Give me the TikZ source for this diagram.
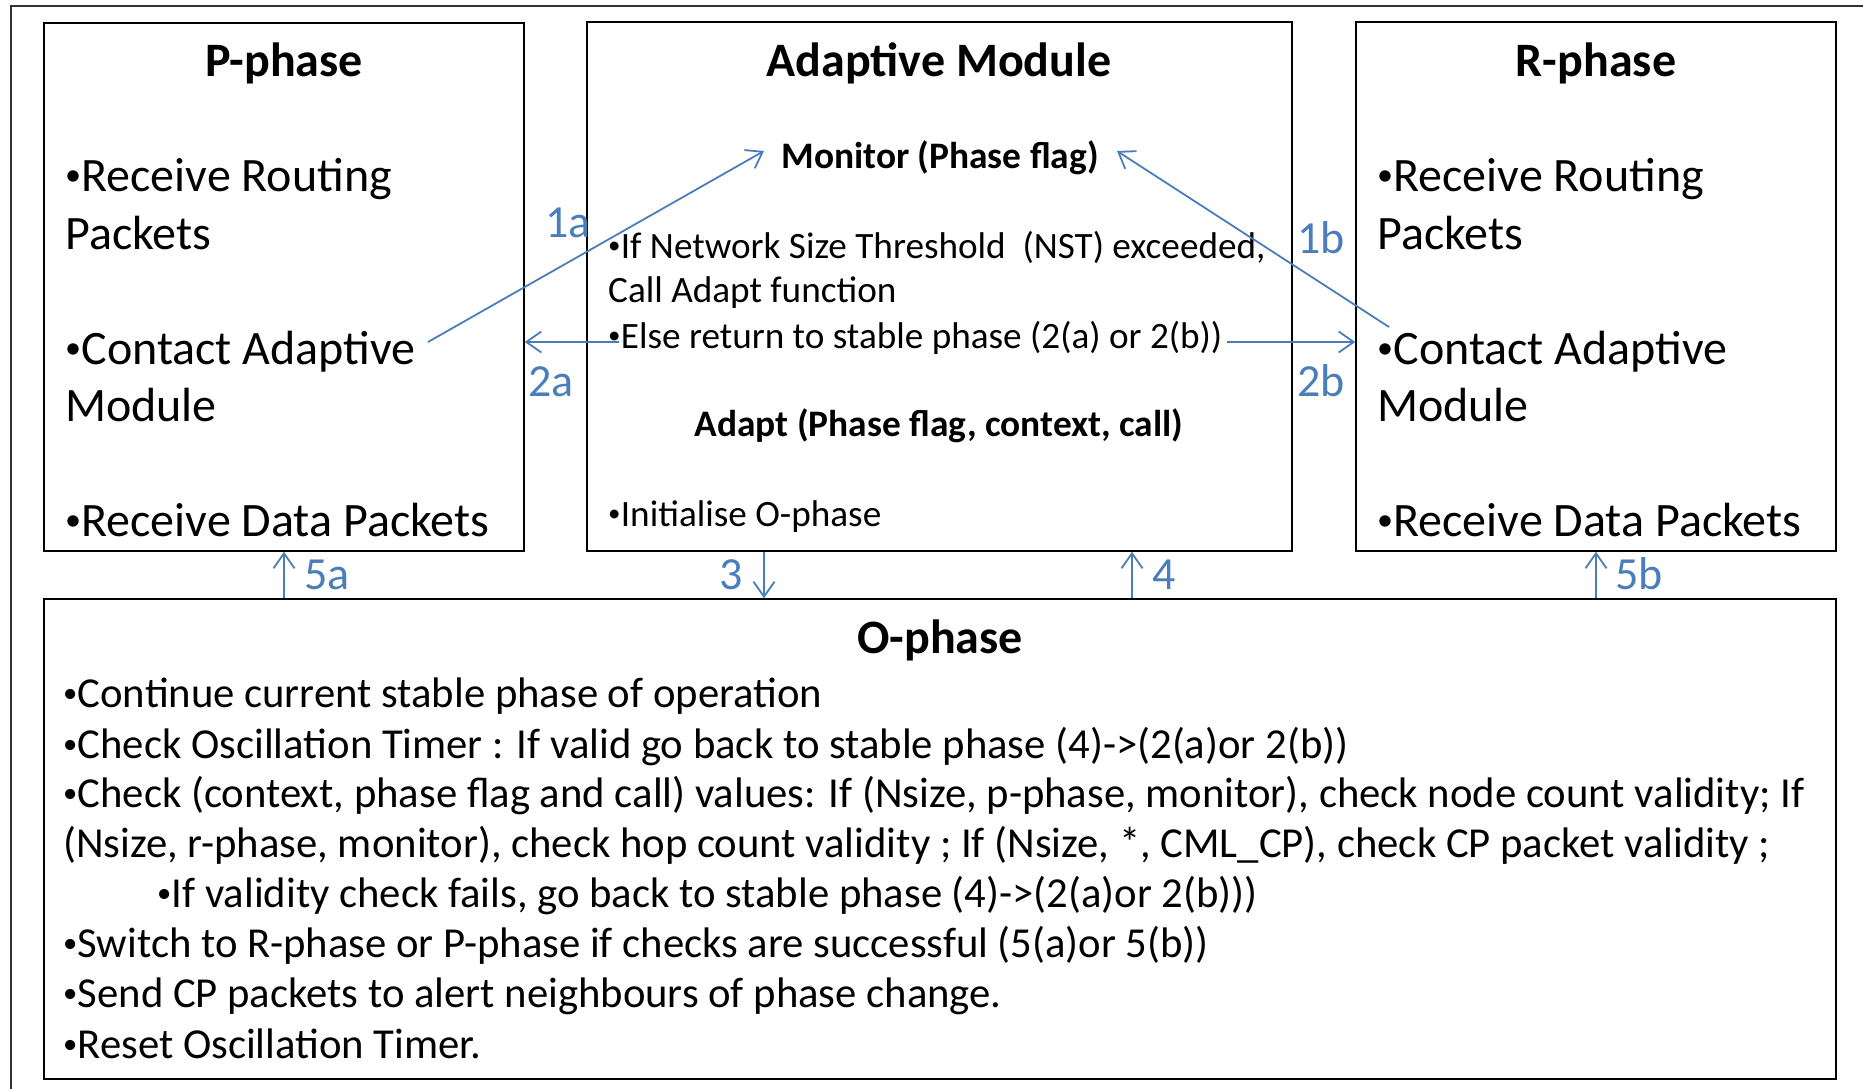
\documentclass[tikz,border=0pt]{standalone}
\usepackage{fontspec}
\setmainfont{Carlito}
\usetikzlibrary{arrows.meta}
\definecolor{arrowblue}{RGB}{74,126,187}
\newcommand\bul{\makebox[0.34em][l]{\raisebox{0.11em}{\scalebox{0.67}{•}}}}
\begin{document}
\begin{tikzpicture}[x=1pt,y=-1pt,
  box/.style={draw, line width=1.5pt, inner sep=0pt},
  ttl/.style={font=\fontsize{48}{56}\selectfont\bfseries, anchor=base, inner sep=0pt},
  sub/.style={font=\fontsize{37.4}{44}\selectfont\bfseries, anchor=base, inner sep=0pt},
  big/.style={font=\fontsize{48}{58}\selectfont, anchor=base west, inner sep=0pt},
  mid/.style={font=\fontsize{37.2}{44}\selectfont, anchor=base west, inner sep=0pt},
  obody/.style={font=\fontsize{42.7}{50}\selectfont, anchor=base west, inner sep=0pt},
  lbl/.style={text=arrowblue, font=\fontsize{46}{52}\selectfont, anchor=base west, inner sep=0pt},
  arr/.style={draw=arrowblue, line width=1.8pt, -{Straight Barb[length=15pt,width=21pt]}}]
\useasboundingbox (0,0) rectangle (1863,1089);
\draw[line width=1.2pt, black!80] (11,1089) -- (11,6) -- (1863,6);

% boxes
\node[box, minimum width=480pt, minimum height=528pt] (P) at (284,287) {};
\node[box, minimum width=705pt, minimum height=529pt] (AM) at (939.5,286.5) {};
\node[box, minimum width=480pt, minimum height=529pt] (R) at (1596,286.5) {};
\node[box, minimum width=1792pt, minimum height=480pt] (O) at (940,839) {};

% P-phase
\node[ttl] (Pt) at (284,77) {P-phase};
\node[big] (P1) at (65,191) {\bul Receive Routing};
\node[big] (P2) at (65,249) {Packets};
\node[big] (P3) at (65,364) {\bul Contact Adaptive};
\node[big] (P4) at (65,421) {Module};
\node[big] (P5) at (65,536) {\bul Receive Data Packets};

% R-phase
\node[ttl] (Rt) at (1596,77) {R-phase};
\node[big] (R1) at (1377,191) {\bul Receive Routing};
\node[big] (R2) at (1377,249) {Packets};
\node[big] (R3) at (1377,364) {\bul Contact Adaptive};
\node[big] (R4) at (1377,421) {Module};
\node[big] (R5) at (1377,536) {\bul Receive Data Packets};

% Adaptive module
\node[ttl] (AMt) at (939,77) {Adaptive Module};
\node[sub] (mon) at (940,168) {Monitor (Phase flag)};
\node[mid] (A1) at (608,258) {\bul If Network Size Threshold\ \ (NST) exceeded,};
\node[mid] (A2) at (608,302) {Call Adapt function};
\node[mid] (A3) at (608,348) {\bul Else return to stable phase (2(a) or 2(b))};
\node[sub] (adapt) at (939,436) {Adapt (Phase flag, context, call)};
\node[mid] (A4) at (608,526) {\bul Initialise O-phase};

% O-phase
\node[ttl] (Ot) at (940,653) {O-phase};
\node[obody] (O1) at (63,707) {\bul Continue current stable phase of operation};
\node[obody] (O2) at (63,758) {\bul Check Oscillation Timer : If valid go back to stable phase (4)->(2(a)or 2(b))};
\node[obody] (O3) at (63,807) {\bul Check (context, phase flag and call) values: If (Nsize, p-phase, monitor), check node count validity; If};
\node[obody] (O4) at (63,857) {(Nsize, r-phase, monitor), check hop count validity ; If (Nsize, *, CML\_CP), check CP packet validity ;};
\node[obody] (O5) at (157,907) {\bul If validity check fails, go back to stable phase (4)->(2(a)or 2(b)))};
\node[obody] (O6) at (63,957) {\bul Switch to R-phase or P-phase if checks are successful (5(a)or 5(b))};
\node[obody] (O7) at (63,1007) {\bul Send CP packets to alert neighbours of phase change.};
\node[obody] (O8) at (63,1058) {\bul Reset Oscillation Timer.};

% connector end points
\coordinate (s1a) at (428,342);
\coordinate (t1a) at (764,151);
\coordinate (s1b) at (1389,327);
\coordinate (t1b) at (1117,151);
\coordinate (s2a) at (619,342);
\coordinate (s2b) at (1227,342);

% connectors
\draw[arr] (s1a) -- (t1a);
\draw[arr] (s1b) -- (t1b);
\draw[arr] (s2a) -- (s2a -| P.east);
\draw[arr] (s2b) -- (s2b -| R.west);
\draw[arr] (764,0 |- AM.south) -- (764,0 |- O.north);
\draw[arr] (1132,0 |- O.north) -- (1132,0 |- AM.south);
\draw[arr] (P.south |- O.north) -- (P.south);
\draw[arr] (R.south |- O.north) -- (R.south);

% labels
\node[lbl] (l1a) at (545,237) {1a};
\node[lbl] (l2a) at (528,396) {2a};
\node[lbl] (l1b) at (1297,253) {1b};
\node[lbl] (l2b) at (1297,396) {2b};
\node[lbl] (l3) at (719,589) {3};
\node[lbl] (l4) at (1152,589) {4};
\node[lbl] (l5a) at (304,589) {5a};
\node[lbl] (l5b) at (1615,589) {5b};
\end{tikzpicture}
\end{document}
